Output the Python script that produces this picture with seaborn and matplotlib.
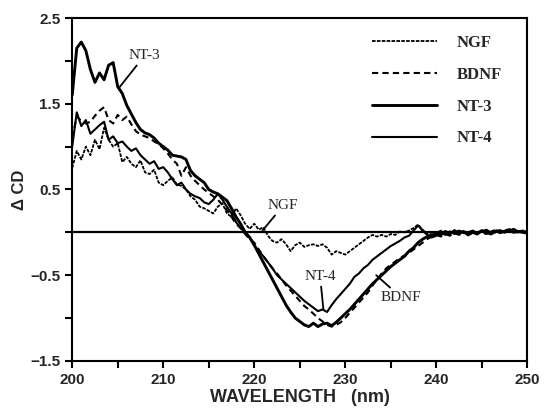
import numpy as np
import pandas as pd
import matplotlib
matplotlib.use("Agg")
import matplotlib.pyplot as plt
import seaborn as sns

# wavelength grid (nm), 0.5 nm steps
wavelength = np.arange(200.0, 250.01, 0.5)

# CD difference spectra
ngf = [0.75, 0.95, 0.85, 1.00, 0.90, 1.08, 0.97, 1.22, 1.08, 1.00,
       1.04, 0.82, 0.88, 0.80, 0.76, 0.84, 0.70, 0.68, 0.73, 0.58,
       0.55, 0.60, 0.64, 0.56, 0.54, 0.50, 0.42, 0.38, 0.30, 0.28,
       0.25, 0.22, 0.30, 0.34, 0.22, 0.18, 0.28, 0.20, 0.10, 0.04,
       0.10, 0.03, 0.06, -0.04, -0.10, -0.12, -0.08, -0.14, -0.22, -0.15,
       -0.12, -0.17, -0.15, -0.14, -0.16, -0.14, -0.18, -0.26, -0.22, -0.24,
       -0.26, -0.22, -0.18, -0.14, -0.10, -0.06, -0.03, -0.05, -0.03, -0.05,
       -0.02, -0.03, 0.01, 0.00, 0.02, 0.05, 0.09, 0.03, -0.02, 0.00,
       -0.01, 0.02, -0.02, 0.01, -0.01, 0.02, 0.00, -0.02, 0.01, 0.00,
       0.02, -0.01, 0.01, 0.03, 0.00, 0.02, 0.04, 0.01, 0.02, 0.00,
       0.01]

bdnf = [1.10, 1.35, 1.30, 1.27, 1.29, 1.36, 1.42, 1.46, 1.31, 1.27,
        1.37, 1.31, 1.35, 1.26, 1.18, 1.14, 1.12, 1.10, 1.06, 1.03,
        0.98, 0.92, 0.85, 0.80, 0.66, 0.76, 0.66, 0.60, 0.55, 0.50,
        0.46, 0.42, 0.38, 0.32, 0.26, 0.18, 0.10, 0.05, -0.02, -0.08,
        -0.12, -0.20, -0.28, -0.35, -0.42, -0.48, -0.55, -0.62, -0.68, -0.74,
        -0.80, -0.86, -0.90, -0.95, -1.00, -1.04, -1.08, -1.10, -1.08, -1.05,
        -1.00, -0.94, -0.88, -0.82, -0.76, -0.70, -0.62, -0.55, -0.48, -0.42,
        -0.38, -0.34, -0.30, -0.27, -0.24, -0.20, -0.16, -0.12, -0.08, -0.05,
        -0.03, -0.05, -0.02, -0.04, -0.01, -0.03, 0.00, -0.02, 0.01, -0.01,
        0.00, -0.02, 0.01, 0.00, 0.02, 0.01, 0.03, 0.01, 0.00, 0.01,
        0.00]

nt3 = [1.60, 2.15, 2.22, 2.12, 1.90, 1.75, 1.86, 1.78, 1.95, 1.98,
       1.70, 1.62, 1.48, 1.38, 1.28, 1.20, 1.16, 1.14, 1.10, 1.04,
       1.00, 0.96, 0.90, 0.89, 0.88, 0.85, 0.72, 0.66, 0.62, 0.58,
       0.50, 0.47, 0.45, 0.41, 0.37, 0.28, 0.18, 0.10, 0.00, -0.06,
       -0.15, -0.25, -0.35, -0.45, -0.55, -0.65, -0.75, -0.85, -0.93, -1.00,
       -1.04, -1.08, -1.10, -1.06, -1.10, -1.07, -1.06, -1.09, -1.05, -1.00,
       -0.95, -0.90, -0.84, -0.78, -0.72, -0.66, -0.60, -0.55, -0.50, -0.45,
       -0.40, -0.36, -0.32, -0.28, -0.22, -0.18, -0.12, -0.08, -0.05, -0.03,
       -0.02, -0.03, 0.01, -0.02, 0.02, -0.01, 0.01, -0.03, 0.00, -0.02,
       0.02, 0.00, -0.02, 0.01, 0.02, 0.00, 0.03, 0.00, 0.01, 0.00,
       -0.01]

nt4 = [1.00, 1.40, 1.24, 1.31, 1.15, 1.20, 1.25, 1.29, 1.08, 1.12,
       1.04, 1.06, 1.00, 0.95, 0.98, 0.90, 0.85, 0.80, 0.83, 0.74,
       0.76, 0.70, 0.62, 0.55, 0.58, 0.50, 0.45, 0.42, 0.40, 0.35,
       0.33, 0.38, 0.45, 0.38, 0.30, 0.22, 0.12, 0.05, 0.00, -0.06,
       -0.15, -0.22, -0.28, -0.35, -0.42, -0.50, -0.55, -0.60, -0.65, -0.70,
       -0.75, -0.80, -0.84, -0.88, -0.92, -0.90, -0.93, -0.85, -0.78, -0.72,
       -0.66, -0.60, -0.52, -0.48, -0.42, -0.38, -0.32, -0.28, -0.24, -0.20,
       -0.16, -0.13, -0.10, -0.06, -0.04, 0.02, 0.08, 0.02, -0.03, -0.06,
       -0.04, 0.00, -0.03, 0.01, -0.02, 0.02, -0.01, 0.00, 0.02, -0.01,
       0.01, 0.03, 0.00, 0.02, -0.01, 0.01, 0.02, 0.04, 0.01, 0.02,
       0.00]

sns.set_style("ticks")
plt.rcParams['font.family'] = ['Liberation Sans', 'DejaVu Sans']

fig = plt.figure(figsize=(5.47, 4.11), dpi=100)
ax = fig.add_axes([0.132, 0.122, 0.832, 0.834])

# zero reference line
ax.axhline(0, color='black', linewidth=1.6, zorder=1)

sns.lineplot(x=wavelength, y=ngf, ax=ax, color='black', linewidth=1.3,
             linestyle=(0, (2, 0.7)), label='NGF')
sns.lineplot(x=wavelength, y=bdnf, ax=ax, color='black', linewidth=1.5,
             linestyle=(0, (3, 2)), label='BDNF')
sns.lineplot(x=wavelength, y=nt3, ax=ax, color='black', linewidth=2.1,
             linestyle='-', label='NT-3')
sns.lineplot(x=wavelength, y=nt4, ax=ax, color='black', linewidth=1.5,
             linestyle='-', label='NT-4')

ax.set_xlim(200, 250)
ax.set_ylim(-1.5, 2.5)
ax.set_xticks([200, 210, 220, 230, 240, 250])
ax.set_xticks([205, 215, 225, 235, 245], minor=True)
ax.set_yticks([-1.5, -0.5, 0.5, 1.5, 2.5])
ax.set_yticks([-1.0, 0.0, 1.0, 2.0], minor=True)
ax.tick_params(axis='both', which='both', direction='out', width=1.5,
               color='black', labelsize=11, length=5)
for lab in ax.get_xticklabels() + ax.get_yticklabels():
    lab.set_fontweight('bold')
for side in ['top', 'right', 'bottom', 'left']:
    ax.spines[side].set_visible(True)
    ax.spines[side].set_linewidth(1.5)
    ax.spines[side].set_color('black')

ax.set_xlabel('WAVELENGTH   (nm)', fontsize=13, fontweight='bold', labelpad=2)
ax.set_ylabel('\u0394 CD', fontsize=12, fontweight='bold', labelpad=2)

# curve labels with leader lines
serif = dict(family=['Liberation Serif', 'DejaVu Serif'], fontsize=11)
arrow = dict(arrowstyle='-', color='black', linewidth=1.3, shrinkA=0, shrinkB=0)
ax.annotate('NT-3', xy=(205.1, 1.68), xytext=(206.2, 2.02), arrowprops=arrow, **serif)
ax.annotate('NGF', xy=(220.9, 0.02), xytext=(221.5, 0.27), arrowprops=arrow, **serif)
ax.annotate('NT-4', xy=(227.6, -0.9), xytext=(225.5, -0.56), arrowprops=arrow, **serif)
ax.annotate('BDNF', xy=(233.4, -0.5), xytext=(233.9, -0.8), arrowprops=arrow, **serif)

ax.legend(loc='upper left', bbox_to_anchor=(0.64, 0.975), frameon=False,
          handlelength=3.9, handletextpad=1.2, labelspacing=0.95,
          borderpad=0, prop=dict(family='Liberation Serif', weight='bold', size=12))

fig.savefig('out.png', dpi=100)
